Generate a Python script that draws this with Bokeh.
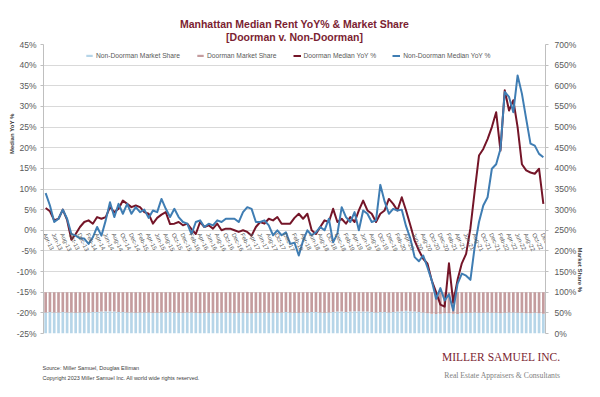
import pandas as pd
from bokeh.plotting import figure
from bokeh.models import (Range1d, LinearAxis, FixedTicker, PrintfTickFormatter, Title,
                          Legend, LegendItem, ColumnDataSource)
from bokeh.core.properties import value
from bokeh.embed import file_html
from bokeh.resources import INLINE

# ---------------- data ----------------
months = [d.strftime("%b-%y") for d in pd.date_range("2013-04-01", "2022-12-01", freq="MS")]

doorman_yoy = [
    5.4, 4.6, 2.4, 2.8, 5.0, 2.5, -2.3, -0.9, 0.8, 2.0, 2.4, 1.6,
    3.2, 2.8, 3.2, 5.6, 4.4, 5.2, 7.2, 6.4, 5.6, 6.0, 5.6, 4.4,
    4.0, 1.6, 3.0, 3.8, 4.4, 1.5, 1.6, 2.0, 1.2, 1.6, 0.3, -0.9,
    2.0, 0.8, 1.2, 0.4, 1.6, 0.0, 0.4, 0.4, 0.0, -0.4, 0.0, -0.4,
    -1.3, 0.8, 2.0, 1.6, 2.8, 2.4, 3.2, 1.6, 1.6, 1.6, 3.0, 4.0,
    2.8, 4.0, 0.0, -0.9, 0.8, 2.4, 2.0, 5.2, 2.0, 2.8, 1.6, 3.2,
    2.0, 4.8, 7.2, 4.8, 4.0, 2.0, 4.0, 4.8, 7.6, 6.4, 4.8, 8.0,
    4.8, 1.2, -2.5, -4.9, -6.9, -8.1, -12.2, -15.0, -18.0, -18.5, -8.0, -17.5,
    -12.0, -8.0, -5.7, 0.5, 9.5, 18.1, 19.7, 22.1, 25.0, 28.6, 19.3, 33.9,
    29.0, 31.5, 25.0, 16.0, 14.5, 14.0, 13.7, 14.9, 6.4,
]

nondoorman_yoy = [
    9.0, 6.0, 2.0, 2.8, 5.0, 2.8, -0.9, -1.3, -2.0, -2.0, -3.3, -1.7,
    0.8, -1.3, 2.4, 6.8, 3.2, 6.4, 4.0, 6.4, 4.0, 5.6, 4.4, 5.0,
    3.0, 4.8, 4.4, 7.6, 5.2, 3.2, 5.2, 3.2, 2.0, 1.6, -0.9, 2.0,
    2.4, 0.8, 1.6, 1.2, 2.4, 2.0, 2.8, 2.8, 2.8, 2.0, 4.4, 5.6,
    5.2, 2.0, 2.0, 2.4, 1.2, -1.2, 0.0, -1.2, -0.5, -3.3, -3.0, -6.1,
    -2.5, 0.0, -1.2, -0.5, 0.8, 0.0, 2.8, -2.9, -0.8, 5.6, 3.2, 2.0,
    4.4, 0.0, 4.8, 4.0, 2.0, 2.4, 11.0, 7.0, 4.0, 5.2, 4.8, 5.0,
    1.0, -2.0, -6.5, -7.5, -6.1, -9.0, -12.2, -16.6, -14.0, -17.0, -15.5, -19.4,
    -13.0, -10.5, -11.0, -12.0, -4.0, 2.0, 6.0, 8.0, 14.9, 16.0, 19.7, 33.5,
    32.3, 28.6, 37.5, 33.1, 27.0, 21.0, 20.5, 18.5, 17.7,
]

nondoorman_share = [
    51, 52, 51, 51, 52, 51, 51, 50, 51, 51, 51, 52,
    52, 53, 54, 54, 53, 52, 52, 51, 51, 50, 51, 51,
    51, 50, 50, 51, 51, 52, 51, 50, 50, 51, 51, 50,
    49, 50, 50, 49, 50, 50, 51, 50, 49, 50, 50, 49,
    49, 50, 50, 51, 50, 50, 50, 51, 52, 51, 50, 50,
    51, 51, 52, 52, 51, 50, 51, 52, 53, 53, 52, 53,
    54, 54, 53, 53, 52, 51, 52, 52, 51, 52, 53, 54,
    55, 54, 53, 52, 51, 49, 48, 47, 48, 49, 49, 48,
    47, 49, 50, 50, 51, 50, 50, 51, 50, 50, 49, 50,
    51, 51, 50, 50, 49, 49, 50, 49, 48,
]

doorman_share = [
    49, 48, 49, 49, 48, 49, 49, 50, 49, 49, 49, 48,
    48, 47, 46, 46, 47, 48, 48, 49, 49, 50, 49, 49,
    49, 50, 50, 49, 49, 48, 49, 50, 50, 49, 49, 50,
    51, 50, 50, 51, 50, 50, 49, 50, 51, 50, 50, 51,
    51, 50, 50, 49, 50, 50, 50, 49, 48, 49, 50, 50,
    49, 49, 48, 48, 49, 50, 49, 48, 47, 47, 48, 47,
    46, 46, 47, 47, 48, 49, 48, 48, 49, 48, 47, 46,
    45, 46, 47, 48, 49, 51, 52, 53, 52, 51, 51, 52,
    53, 51, 50, 50, 49, 50, 50, 49, 50, 50, 51, 50,
    49, 49, 50, 50, 51, 51, 50, 51, 52,
]

left_ticks = list(range(-25, 50, 5))
right_ticks = list(range(0, 750, 50))

# ---------------- styles ----------------
FONT = "Liberation Sans"
SERIF = "Liberation Serif"
RED = "#741528"
BLUE = "#3f7db3"
BAR_BLUE = "#b6d5e8"
BAR_ROSE = "#c49c9e"
TXT = "#595959"
TITLE = "#7b1e32"

idx = list(range(len(months)))
src = ColumnDataSource(dict(
    x=idx, nd=nondoorman_share,
    top=[a + b for a, b in zip(nondoorman_share, doorman_share)],
    red=doorman_yoy, blue=nondoorman_yoy,
))

p = figure(width=600, height=397,
           x_range=Range1d(-0.5, len(months) - 0.5), y_range=Range1d(-25, 45),
           title="Manhattan Median Rent YoY% & Market Share",
           output_backend="svg", toolbar_location=None,
           x_axis_location=None, y_axis_location="left",
           min_border_left=43, min_border_right=55, min_border_top=44, min_border_bottom=64,
           background_fill_color="white", border_fill_color="white", outline_line_color=None)
p.extra_y_ranges = {"share": Range1d(0, 700)}

p.title.align = "center"
p.title.standoff = -4
p.title.text_font = FONT
p.title.text_font_size = "10.5px"
p.title.text_font_style = "bold"
p.title.text_color = TITLE
p.add_layout(Title(text="[Doorman v. Non-Doorman]", align="center", standoff=3,
                   text_font=FONT, text_font_size="10.5px", text_font_style="bold",
                   text_color=TITLE), "above")

# grid
p.ygrid.ticker = FixedTicker(ticks=left_ticks)
p.ygrid.grid_line_color = "#d9d9d9"
p.xgrid.visible = False

def style_axis(ax):
    ax.major_label_text_font = FONT
    ax.major_label_text_font_size = "8.5px"
    ax.major_label_text_color = TXT
    ax.axis_line_color = "#bfbfbf"
    ax.major_tick_line_color = "#bfbfbf"
    ax.major_tick_out = 3
    ax.major_tick_in = 0
    ax.minor_tick_line_color = None

ly = p.yaxis[0]
ly.ticker = FixedTicker(ticks=left_ticks)
ly.formatter = PrintfTickFormatter(format="%d%%")
style_axis(ly)
ly.major_label_standoff = 4

ry = LinearAxis(y_range_name="share", ticker=FixedTicker(ticks=right_ticks),
                formatter=PrintfTickFormatter(format="%d%%"))
style_axis(ry)
ry.major_label_standoff = 6
p.add_layout(ry, "right")

# axis titles (side titles, offset from the frame's top edge)
p.add_layout(Title(text="Median YoY %", align="right", offset=69, standoff=-5,
                   vertical_align="middle",
                   text_font=FONT, text_font_size="6px", text_font_style="bold",
                   text_color="#404040"), "left")
p.add_layout(Title(text="Market Share %", align="left", offset=203, standoff=-7,
                   vertical_align="middle",
                   text_font=FONT, text_font_size="6px", text_font_style="bold",
                   text_color="#404040"), "right")

# footer texts (stacked below the plot area)
p.add_layout(Title(text="\nMILLER SAMUEL INC.", align="right", offset=-15, standoff=7,
                   text_font=SERIF, text_font_size="11.5px", text_font_style="normal",
                   text_color=TITLE), "below")
p.add_layout(Title(text="Source: Miller Samuel, Douglas Elliman", align="left", offset=-1,
                   standoff=-7, text_font=FONT, text_font_size="5.5px", text_font_style="normal",
                   text_color="#404040"), "below")
p.add_layout(Title(text="\nReal Estate Appraisers & Consultants", align="right", offset=-15,
                   standoff=-15, text_font=SERIF, text_font_size="7.7px", text_font_style="normal",
                   text_color="#808080"), "below")
p.add_layout(Title(text="Copyright 2023 Miller Samuel Inc.  All world wide rights reserved.",
                   align="left", offset=-1, standoff=0, text_font=FONT, text_font_size="5.5px",
                   text_font_style="normal", text_color="#404040"), "below")

# bars (stacked market share)
b1 = p.vbar(x="x", bottom=0, top="nd", width=0.62, source=src, y_range_name="share",
            fill_color=BAR_BLUE, line_color=None)
b2 = p.vbar(x="x", bottom="nd", top="top", width=0.62, source=src, y_range_name="share",
            fill_color=BAR_ROSE, line_color=None)

# lines
l1 = p.line(x="x", y="red", source=src, line_color=RED, line_width=2, line_join="round")
l2 = p.line(x="x", y="blue", source=src, line_color=BLUE, line_width=2, line_join="round")

# category labels along the zero line
lab_src = ColumnDataSource(dict(x=idx[::2], y=[0] * len(idx[::2]), t=months[::2]))
p.text(x="x", y="y", text="t", source=lab_src, angle=-65, angle_units="deg",
       text_align="left", text_baseline="middle", text_font=value(FONT),
       text_font_size=value("6px"), text_color=TXT, x_offset=-1, y_offset=3)

# legend
legend = Legend(items=[
    LegendItem(label="Non-Doorman Market Share", renderers=[b1]),
    LegendItem(label="Doorman Market Share", renderers=[b2]),
    LegendItem(label="Doorman Median YoY %", renderers=[l1]),
    LegendItem(label="Non-Doorman Median YoY %", renderers=[l2]),
], orientation="horizontal", location=(42, 274), padding=0, margin=0, spacing=16,
    label_standoff=3, glyph_width=8, glyph_height=3, label_height=8,
    label_text_font=FONT, label_text_font_size="6.7px", label_text_color=TXT,
    background_fill_alpha=0, border_line_color=None)
p.add_layout(legend)

open("out.html", "w").write(file_html(p, INLINE))
